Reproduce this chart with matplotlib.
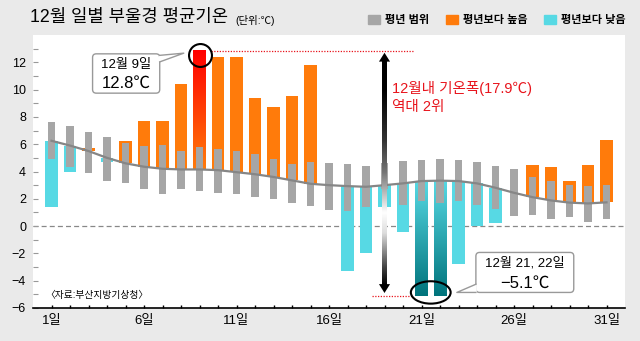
import numpy as np
import matplotlib
matplotlib.use("Agg")
import matplotlib.pyplot as plt
from matplotlib.colors import LinearSegmentedColormap
from matplotlib.patches import FancyBboxPatch, Polygon, Ellipse, Patch

plt.rcParams["font.family"] = ["Liberation Sans", "Noto Sans CJK KR"]

# 12월 일별 부울경 평균기온 (℃)
days = np.arange(1, 32)
normal_mean = [6.25, 5.9, 5.5, 5.0, 4.6, 4.35, 4.2, 4.15, 4.15, 4.1, 3.95, 3.8, 3.6, 3.35, 3.1, 3.0,
               2.93, 2.88, 3.0, 3.13, 3.3, 3.33, 3.3, 3.13, 2.81, 2.44, 2.12, 1.88, 1.72, 1.66, 1.74]
normal_low = [4.89, 4.33, 3.86, 3.30, 3.13, 2.74, 2.32, 2.69, 2.59, 2.45, 2.32, 2.15, 1.98, 1.71, 1.49, 1.17,
              1.10, 1.42, 2.7, 1.54, 1.86, 1.71, 1.86, 1.54, 1.22, 0.73, 0.81, 0.51, 0.64, 0.32, 0.49]
normal_high = [7.65, 7.34, 6.92, 6.55, 6.07, 5.87, 5.92, 5.5, 5.77, 5.62, 5.5, 5.28, 4.89, 4.52, 4.72, 4.65,
               4.55, 4.43, 4.65, 4.77, 4.84, 4.91, 4.84, 4.72, 4.43, 4.16, 3.62, 3.30, 3.01, 2.93, 3.01]
actual = [1.4, 4.0, 5.7, 4.7, 6.2, 7.7, 7.7, 10.4, 12.8, 12.4, 12.4, 9.4, 8.7, 9.5, 11.8, 3.0,
          -3.3, -2.0, 1.4, -0.4, -5.1, -5.1, -2.8, 0.0, 0.2, 2.44, 4.5, 4.3, 3.3, 4.5, 6.3]
label_days = [1, 6, 11, 16, 21, 26, 31]
hot_day = 9
cold_days = [21, 22]

ORANGE = "#ff7b0b"
CYAN = "#57d9e4"
GRAY = "#a6a6a6"
RED = "#e8141c"

fig = plt.figure(figsize=(6.4, 3.41), dpi=100, facecolor="#eaeaea")
ax = fig.add_axes([33 / 640, 1 - 308 / 341, (625 - 33) / 640, (308 - 35) / 341])
ax.set_facecolor("white")

mean = np.array(normal_mean)
act = np.array(actual)
low = np.array(normal_low)
high = np.array(normal_high)
bottom = np.minimum(mean, act)
height = np.abs(act - mean)
colors = np.array([ORANGE if a >= m else CYAN for a, m in zip(act, mean)])
plain = np.array([d != hot_day and d not in cold_days for d in days])

ax.bar(days[plain], height[plain], bottom=bottom[plain], width=0.68, color=colors[plain], zorder=2)


def gradient_bar(x, lo, hi, c_top, c_bottom):
    cmap = LinearSegmentedColormap.from_list("g", [c_bottom, c_top])
    grad = np.linspace(0, 1, 256).reshape(-1, 1)
    ax.imshow(grad, cmap=cmap, extent=(x - 0.34, x + 0.34, lo, hi), origin="lower",
              aspect="auto", zorder=2, interpolation="bilinear")


i = hot_day - 1
gradient_bar(hot_day, mean[i], act[i], "#ff0000", ORANGE)
for d in cold_days:
    i = d - 1
    gradient_bar(d, act[i], mean[i], CYAN, "#00737b")

# 평년 범위
ax.bar(days, high - low, bottom=low, width=0.42, color=GRAY, zorder=3)
ax.plot(days, normal_mean, color="#868686", lw=1.6, zorder=4)

ax.axhline(0, color="#888888", lw=0.9, ls=(0, (4, 2.5)), zorder=1)

ax.set_xlim(0, 32)
ax.set_ylim(-6, 14)
for s in ["top", "right", "left"]:
    ax.spines[s].set_visible(False)
ax.spines["bottom"].set_linewidth(1.2)

ax.set_xticks(days)
ax.set_xticklabels([f"{d}일" if d in label_days else "" for d in days])
ax.tick_params(axis="x", direction="in", length=2.5, width=1, color="black", pad=5, labelsize=9.5)
ax.set_yticks(range(-6, 13, 2))
ax.set_yticks(range(-5, 14, 2), minor=True)
ax.tick_params(axis="y", which="both", direction="in", length=3.5, width=0.8, color="#999999",
               pad=5, labelsize=9)

# 기온폭 화살표
hot_val = act[hot_day - 1]
cold_val = act[cold_days[0] - 1]
ax.hlines(hot_val, hot_day + 0.6, 20.6, colors=RED, linestyles=(0, (1, 1.2)), lw=0.9, zorder=5)
ax.hlines(cold_val, 18.3, 20.5, colors=RED, linestyles=(0, (1, 1.2)), lw=0.9, zorder=5)

y0, y1 = -4.3, 12.1
def frac(v):
    return (v - y0) / (y1 - y0)
arrow_cmap = LinearSegmentedColormap.from_list("arr", [
    (0, "black"), (frac(-3.0), "#444444"), (frac(-0.5), "#dddddd"), (frac(1.0), "white"),
    (frac(3.9), "#777777"), (frac(6.3), "#333333"), (frac(10.0), "black"), (1, "black")])
ax.imshow(np.linspace(0, 1, 256).reshape(-1, 1), cmap=arrow_cmap, extent=(18.88, 19.12, y0, y1),
          origin="lower", aspect="auto", zorder=5, interpolation="bilinear")
ax.add_patch(Polygon([(18.7, 12.05), (19.3, 12.05), (19, 12.7)], fc="black", ec="none", zorder=5))
ax.add_patch(Polygon([(18.7, -4.25), (19.3, -4.25), (19, -4.9)], fc="black", ec="none", zorder=5))

ax.text(19.43, 10.05, f"12월내 기온폭({hot_val - cold_val:.1f}℃)", color=RED, fontsize=10.5, va="center")
ax.text(19.43, 8.73, "역대 2위", color=RED, fontsize=10.5, va="center")

# 강조 표시
ax.plot(hot_day, 12.55, "o", ms=16.5, mfc="none", mec="black", mew=1.5, zorder=6)
ax.add_patch(Ellipse((np.mean(cold_days), -4.86), 2.15, 1.64, fill=False, ec="black", lw=1.5, zorder=6))

asp = 18.5 / 13.63
ax.add_patch(FancyBboxPatch((3.22, 9.74), 3.63, 2.88, boxstyle="round,pad=0,rounding_size=0.2",
                            mutation_aspect=asp, fc="white", ec="#999999", lw=1, zorder=7))
ax.add_patch(Polygon([(6.80, 12.51), (8.15, 12.67), (6.80, 12.03)], fc="white", ec="none", zorder=8))
ax.plot([6.85, 8.15, 6.85], [12.51, 12.67, 12.03], color="#999999", lw=1, zorder=8)
ax.text(5.04, 11.81, f"12월 {hot_day}일", ha="center", va="center", fontsize=9.5, zorder=9)
ax.text(5.04, 10.47, f"{hot_val}℃", ha="center", va="center", fontsize=12, zorder=9)

ax.add_patch(FancyBboxPatch((23.94, -4.86), 5.29, 2.93, boxstyle="round,pad=0,rounding_size=0.2",
                            mutation_aspect=asp, fc="white", ec="#999999", lw=1, zorder=7))
ax.add_patch(Polygon([(23.99, -4.26), (22.91, -4.86), (23.99, -4.86)], fc="white", ec="none", zorder=8))
ax.plot([23.94, 22.91, 23.94], [-4.26, -4.86, -4.86], color="#999999", lw=1, zorder=8)
ax.text(26.59, -2.74, f"12월 {cold_days[0]}, {cold_days[1]}일", ha="center", va="center", fontsize=9.5, zorder=9)
ax.text(26.59, -4.16, f"{cold_val:.1f}℃".replace("-", "\u2212"), ha="center", va="center", fontsize=12, zorder=9)

ax.text(0.68, -5.06, "〈자료:부산지방기상청〉", fontsize=7, va="center", zorder=9)

# 제목, 범례
fig.text(30 / 640, 1 - 17.5 / 341, "12월 일별 부울경 평균기온", fontsize=12.8, va="center")
fig.text(235 / 640, 1 - 20 / 341, "(단위:℃)", fontsize=7.5, va="center")
handles = [Patch(color=GRAY, label="평년 범위"), Patch(color=ORANGE, label="평년보다 높음"),
           Patch(color=CYAN, label="평년보다 낮음")]
fig.legend(handles=handles, ncol=3, loc="center right", bbox_to_anchor=(626 / 640, 1 - 20 / 341),
           frameon=False, prop=dict(weight="bold", size=8), handlelength=1.1, handleheight=0.9,
           handletextpad=0.45, columnspacing=1.5, borderpad=0, borderaxespad=0)

fig.savefig("out.png", dpi=100, facecolor=fig.get_facecolor())
